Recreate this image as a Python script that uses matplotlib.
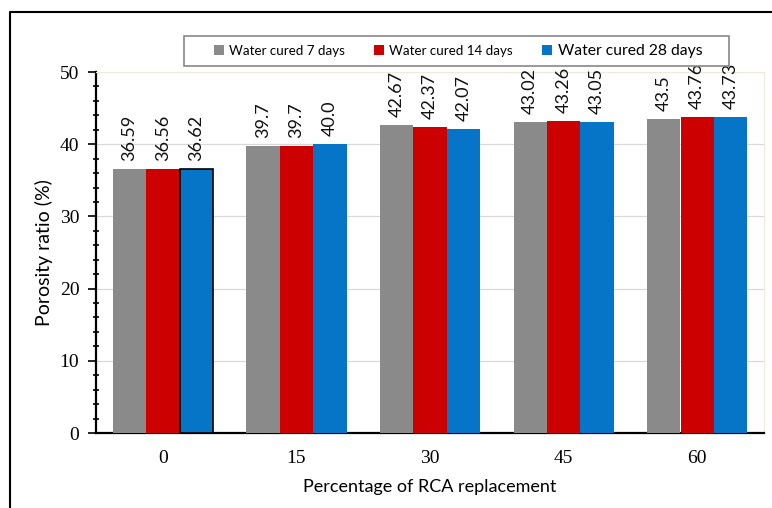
import matplotlib
matplotlib.use('Agg')
import matplotlib.pyplot as plt
from matplotlib.lines import Line2D
from matplotlib.patches import Patch, Rectangle
import numpy as np

# porosity ratio (%) for each RCA replacement level
rca = ['0', '15', '30', '45', '60']
cured_7 = [36.59, 39.7, 42.67, 43.02, 43.5]
cured_14 = [36.56, 39.7, 42.37, 43.26, 43.76]
cured_28 = [36.62, 40.0, 42.07, 43.05, 43.73]
labels_7 = ['36.59', '39.7', '42.67', '43.02', '43.5']
labels_14 = ['36.56', '39.7', '42.37', '43.26', '43.76']
labels_28 = ['36.62', '40.0', '42.07', '43.05', '43.73']
series_names = ['Water cured 7 days', 'Water cured 14 days', 'Water cured 28 days']

colors = ['#8a8a8a', '#cc0000', '#0675c8']

fig = plt.figure(figsize=(7.72, 5.08), dpi=100)
ax = fig.add_axes([96/772, 1-433/508, 668/772, 361/508])

x = np.arange(len(rca))
w = 0.25
series = [(cured_7, labels_7), (cured_14, labels_14), (cured_28, labels_28)]
for i, (vals, labs) in enumerate(series):
    bars = ax.bar(x + (i-1)*w, vals, w, color=colors[i], zorder=3)
    for b, lab in zip(bars, labs):
        ax.text(b.get_x() + b.get_width()/2, b.get_height() + 1.1, lab,
                rotation=90, ha='center', va='bottom', fontsize=13,
                family='Lato', color='#111111')
# first blue bar is outlined
ax.patches[10].set_edgecolor('black')
ax.patches[10].set_linewidth(1.2)

ax.set_xlim(-0.5, 4.5)
ax.set_ylim(0, 50)
ax.set_xticks(x)
ax.set_xticklabels(rca, family='Liberation Serif', fontsize=14)
ax.set_yticks(np.arange(0, 51, 10))
ax.set_yticklabels([str(v) for v in range(0, 51, 10)], family='Liberation Serif', fontsize=14)
ax.set_yticks(np.arange(0, 51, 2), minor=True)
ax.tick_params(axis='x', length=0, pad=12)
ax.tick_params(axis='y', which='major', direction='out', length=6, width=1.2, pad=6)
ax.tick_params(axis='y', which='minor', direction='inout', length=5, width=1.2)
ax.grid(axis='y', color='#d9d9d9', linewidth=0.9, zorder=0)

for s in ['left', 'bottom']:
    ax.spines[s].set_linewidth(1.6)
    ax.spines[s].set_color('black')
for s in ['top', 'right']:
    ax.spines[s].set_linewidth(0.8)
    ax.spines[s].set_color('#ecebdc')

ax.set_ylabel('Porosity ratio (%)', family='Lato', fontsize=14, labelpad=5)
ax.set_xlabel('Percentage of RCA replacement', family='Lato', fontsize=13, labelpad=9)

# outer frame (left and top edges)
fig.add_artist(Line2D([10/772, 10/772, 1.0], [0.0, 1-12/508, 1-12/508],
                      color='black', linewidth=1.5))

# legend box above the plot area
fig.add_artist(Rectangle((184/772, 1-66/508), 545/772, 30/508, transform=fig.transFigure,
                         facecolor='white', edgecolor='#888888', linewidth=1.2, zorder=4))
handles = [Patch(facecolor=c) for c in colors]
leg = fig.legend(handles, series_names, loc='center', ncol=3,
                 bbox_to_anchor=(458/772, 1-51/508), frameon=False,
                 prop={'family': 'Lato', 'size': 9.6},
                 handlelength=0.75, handleheight=0.75, handletextpad=0.4,
                 columnspacing=2.2, borderaxespad=0, borderpad=0)
leg.set_zorder(5)
leg.get_texts()[2].set_fontsize(11.3)

fig.savefig('out.png', dpi=100)
